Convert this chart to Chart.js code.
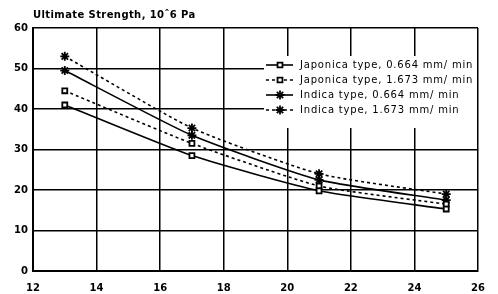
<!DOCTYPE html>
<html>
<head>
<meta charset="utf-8">
<script src="https://cdn.jsdelivr.net/npm/chart.js@4"></script>
<style>
  html, body { margin: 0; padding: 0; background: #fff; }
  #wrap { width: 498px; height: 294px; }
</style>
</head>
<body>
<div id="wrap"><canvas id="chart"></canvas></div>
<script>
// Data
const speedX = [13, 17, 21, 25];
const japonicaSlow = [41, 28.5, 19.8, 15.3];
const japonicaFast = [44.5, 31.5, 21, 16.5];
const indicaSlow = [49.5, 33.5, 22.5, 17.5];
const indicaFast = [53, 35.3, 24, 19];
const seriesNames = [
    'Japonica type, 0.664 mm/ min',
    'Japonica type, 1.673 mm/ min',
    'Indica type, 0.664 mm/ min',
    'Indica type, 1.673 mm/ min'
];
const yTicks = [0, 10, 20, 30, 40, 50, 60];
const xTicks = [12, 14, 16, 18, 20, 22, 24, 26];
const titleText = 'Ultimate Strength, 10ˆ6 Pa';

function toPoints(ys) {
    return speedX.map((x, i) => ({ x: x, y: ys[i] }));
}

const styles = [
    { dash: [], point: 'rect', r: 3.5, bg: '#fff' },
    { dash: [3, 3], point: 'rect', r: 3.5, bg: '#fff' },
    { dash: [], point: 'star', r: 4.5, bg: '#000' },
    { dash: [3, 3], point: 'star', r: 4.5, bg: '#000' }
];

const datasets = [japonicaSlow, japonicaFast, indicaSlow, indicaFast].map((ys, i) => ({
    label: seriesNames[i],
    data: toPoints(ys),
    borderColor: '#000',
    borderWidth: 1.6,
    borderDash: styles[i].dash,
    tension: 0.18,
    pointStyle: styles[i].point,
    pointRadius: styles[i].r,
    pointBackgroundColor: styles[i].bg,
    pointBorderColor: '#000',
    pointBorderWidth: 1.8
}));

// Title and in-plot legend drawn onto the canvas
const overlay = {
    id: 'overlay',
    afterDatasetsDraw(chart) {
        const ctx = chart.ctx;
        const area = chart.chartArea;
        ctx.save();
        ctx.fillStyle = '#000';
        ctx.font = 'bold 10px "DejaVu Sans"';
        ctx.textBaseline = 'middle';
        ctx.textAlign = 'left';
        ctx.letterSpacing = '0.4px';
        ctx.fillText(titleText, area.left, 15);

        // white legend box
        ctx.fillStyle = '#fff';
        ctx.fillRect(264, 56, area.right - 265, 72);
        ctx.font = '10px "DejaVu Sans"';
        ctx.letterSpacing = '0.8px';
        const rows = [65, 80, 95, 110];
        datasets.forEach((ds, i) => {
            const y = rows[i];
            ctx.strokeStyle = '#000';
            ctx.lineWidth = 1.6;
            ctx.setLineDash(ds.borderDash);
            ctx.beginPath();
            ctx.moveTo(266, y);
            ctx.lineTo(293, y);
            ctx.stroke();
            ctx.setLineDash([]);
            ctx.fillStyle = ds.pointBackgroundColor;
            ctx.strokeStyle = '#000';
            ctx.lineWidth = ds.pointBorderWidth;
            Chart.helpers.drawPoint(ctx, {
                pointStyle: ds.pointStyle,
                radius: ds.pointRadius,
                borderWidth: ds.pointBorderWidth,
                rotation: 0
            }, 280, y);
            ctx.fillStyle = '#000';
            ctx.fillText(ds.label, 300, y);
        });
        ctx.restore();
    }
};

new Chart(document.getElementById('chart'), {
    type: 'line',
    data: { datasets: datasets },
    options: {
        responsive: true,
        maintainAspectRatio: false,
        animation: false,
        layout: { padding: { top: 28, right: 20, left: 0, bottom: 0 } },
        plugins: {
            legend: { display: false },
            title: { display: false },
            tooltip: { enabled: false }
        },
        scales: {
            x: {
                type: 'linear',
                min: 12,
                max: 26,
                afterBuildTicks: (s) => { s.ticks = xTicks.map(v => ({ value: v })); },
                afterFit: (s) => { s.height = 23; },
                grid: { color: '#000', lineWidth: 1.5, drawTicks: false },
                border: { color: '#000', width: 2 },
                ticks: {
                    color: '#000',
                    padding: 11,
                    maxRotation: 0,
                    font: { family: 'DejaVu Sans', size: 10, weight: 'bold' }
                }
            },
            y: {
                min: 0,
                max: 60,
                afterBuildTicks: (s) => { s.ticks = yTicks.map(v => ({ value: v })); },
                afterFit: (s) => { s.width = 33; },
                grid: { color: '#000', lineWidth: 1.5, drawTicks: false },
                border: { color: '#000', width: 2 },
                ticks: {
                    color: '#000',
                    padding: 5,
                    font: { family: 'DejaVu Sans', size: 10, weight: 'bold' }
                }
            }
        }
    },
    plugins: [overlay]
});
</script>
</body>
</html>
